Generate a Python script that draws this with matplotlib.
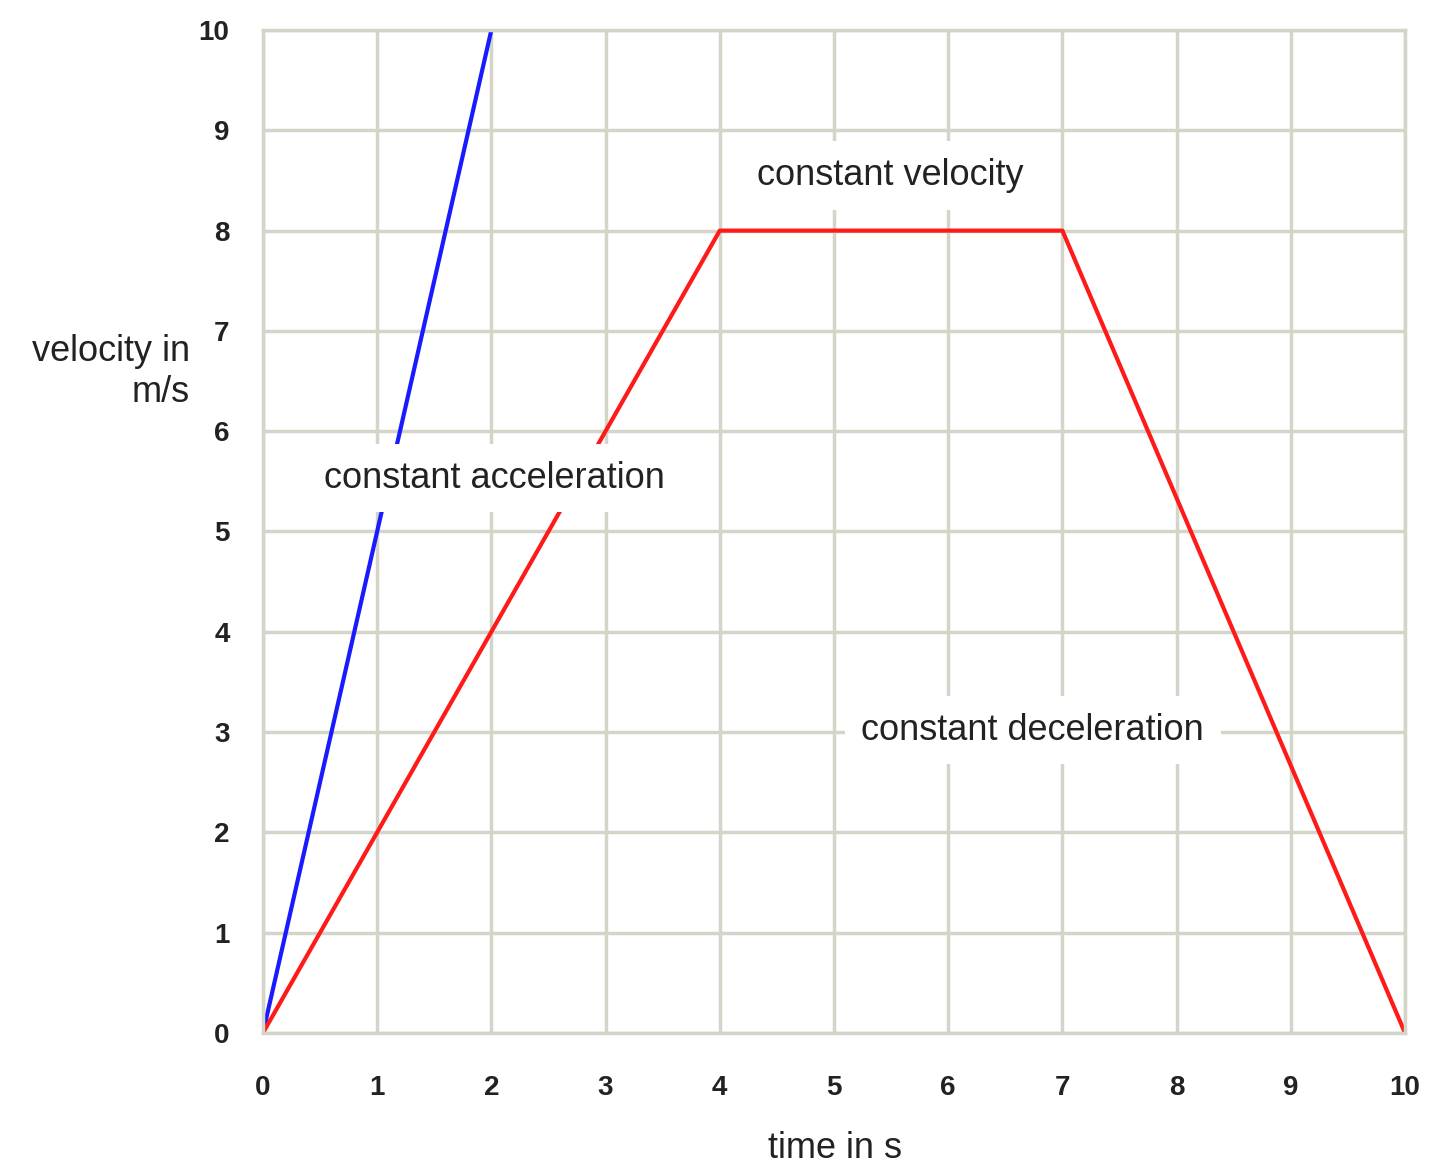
import matplotlib.pyplot as plt

plt.rcParams["font.family"] = "Liberation Sans"

t_blue = [0, 2]
v_blue = [0, 10]
t_red = [0, 4, 7, 10]
v_red = [0, 8, 8, 0]
ticks = list(range(0, 11))

fig = plt.figure(figsize=(14.4, 11.73), dpi=100)
ax = fig.add_axes([0.1826, 0.1194, 0.7931, 0.855])
ax.plot(t_blue, v_blue, color="#1a1aff", lw=3, clip_on=True)
ax.plot(t_red, v_red, color="#ff1a1a", lw=3)
ax.set_xlim(0, 10)
ax.set_ylim(0, 10)
ax.set_xticks(ticks)
ax.set_yticks(ticks)
ax.grid(True, color="#d4d4c8", lw=2.5)
ax.set_axisbelow(True)
for s in ax.spines.values():
    s.set_color("#d4d4c8")
    s.set_linewidth(2.5)
ax.tick_params(length=0, labelsize=20)
ax.tick_params(axis="x", pad=40)
ax.tick_params(axis="y", pad=24)
for lab in ax.get_xticklabels() + ax.get_yticklabels():
    lab.set_fontweight("bold")
    lab.set_color("#222222")
for lab in ax.get_xticklabels():
    lab.set_va("center")

box = dict(facecolor="white", edgecolor="none", pad=12)
ax.text(5.49, 8.55, "constant velocity", fontsize=26, ha="center", va="center", bbox=box, color="#222222")
ax.text(2.03, 5.53, "constant acceleration", fontsize=26, ha="center", va="center", bbox=box, color="#222222")
ax.text(6.74, 3.02, "constant deceleration", fontsize=26, ha="center", va="center", bbox=box, color="#222222")

fig.text(190 / 1440, 1 - 372 / 1173, "velocity in\nm/s", fontsize=26, ha="right", va="center",
         multialignment="right", color="#222222")
fig.text(835 / 1440, 1 - 1148 / 1173, "time in s", fontsize=26, ha="center", va="center", color="#222222")

fig.savefig("out.png", dpi=100)
